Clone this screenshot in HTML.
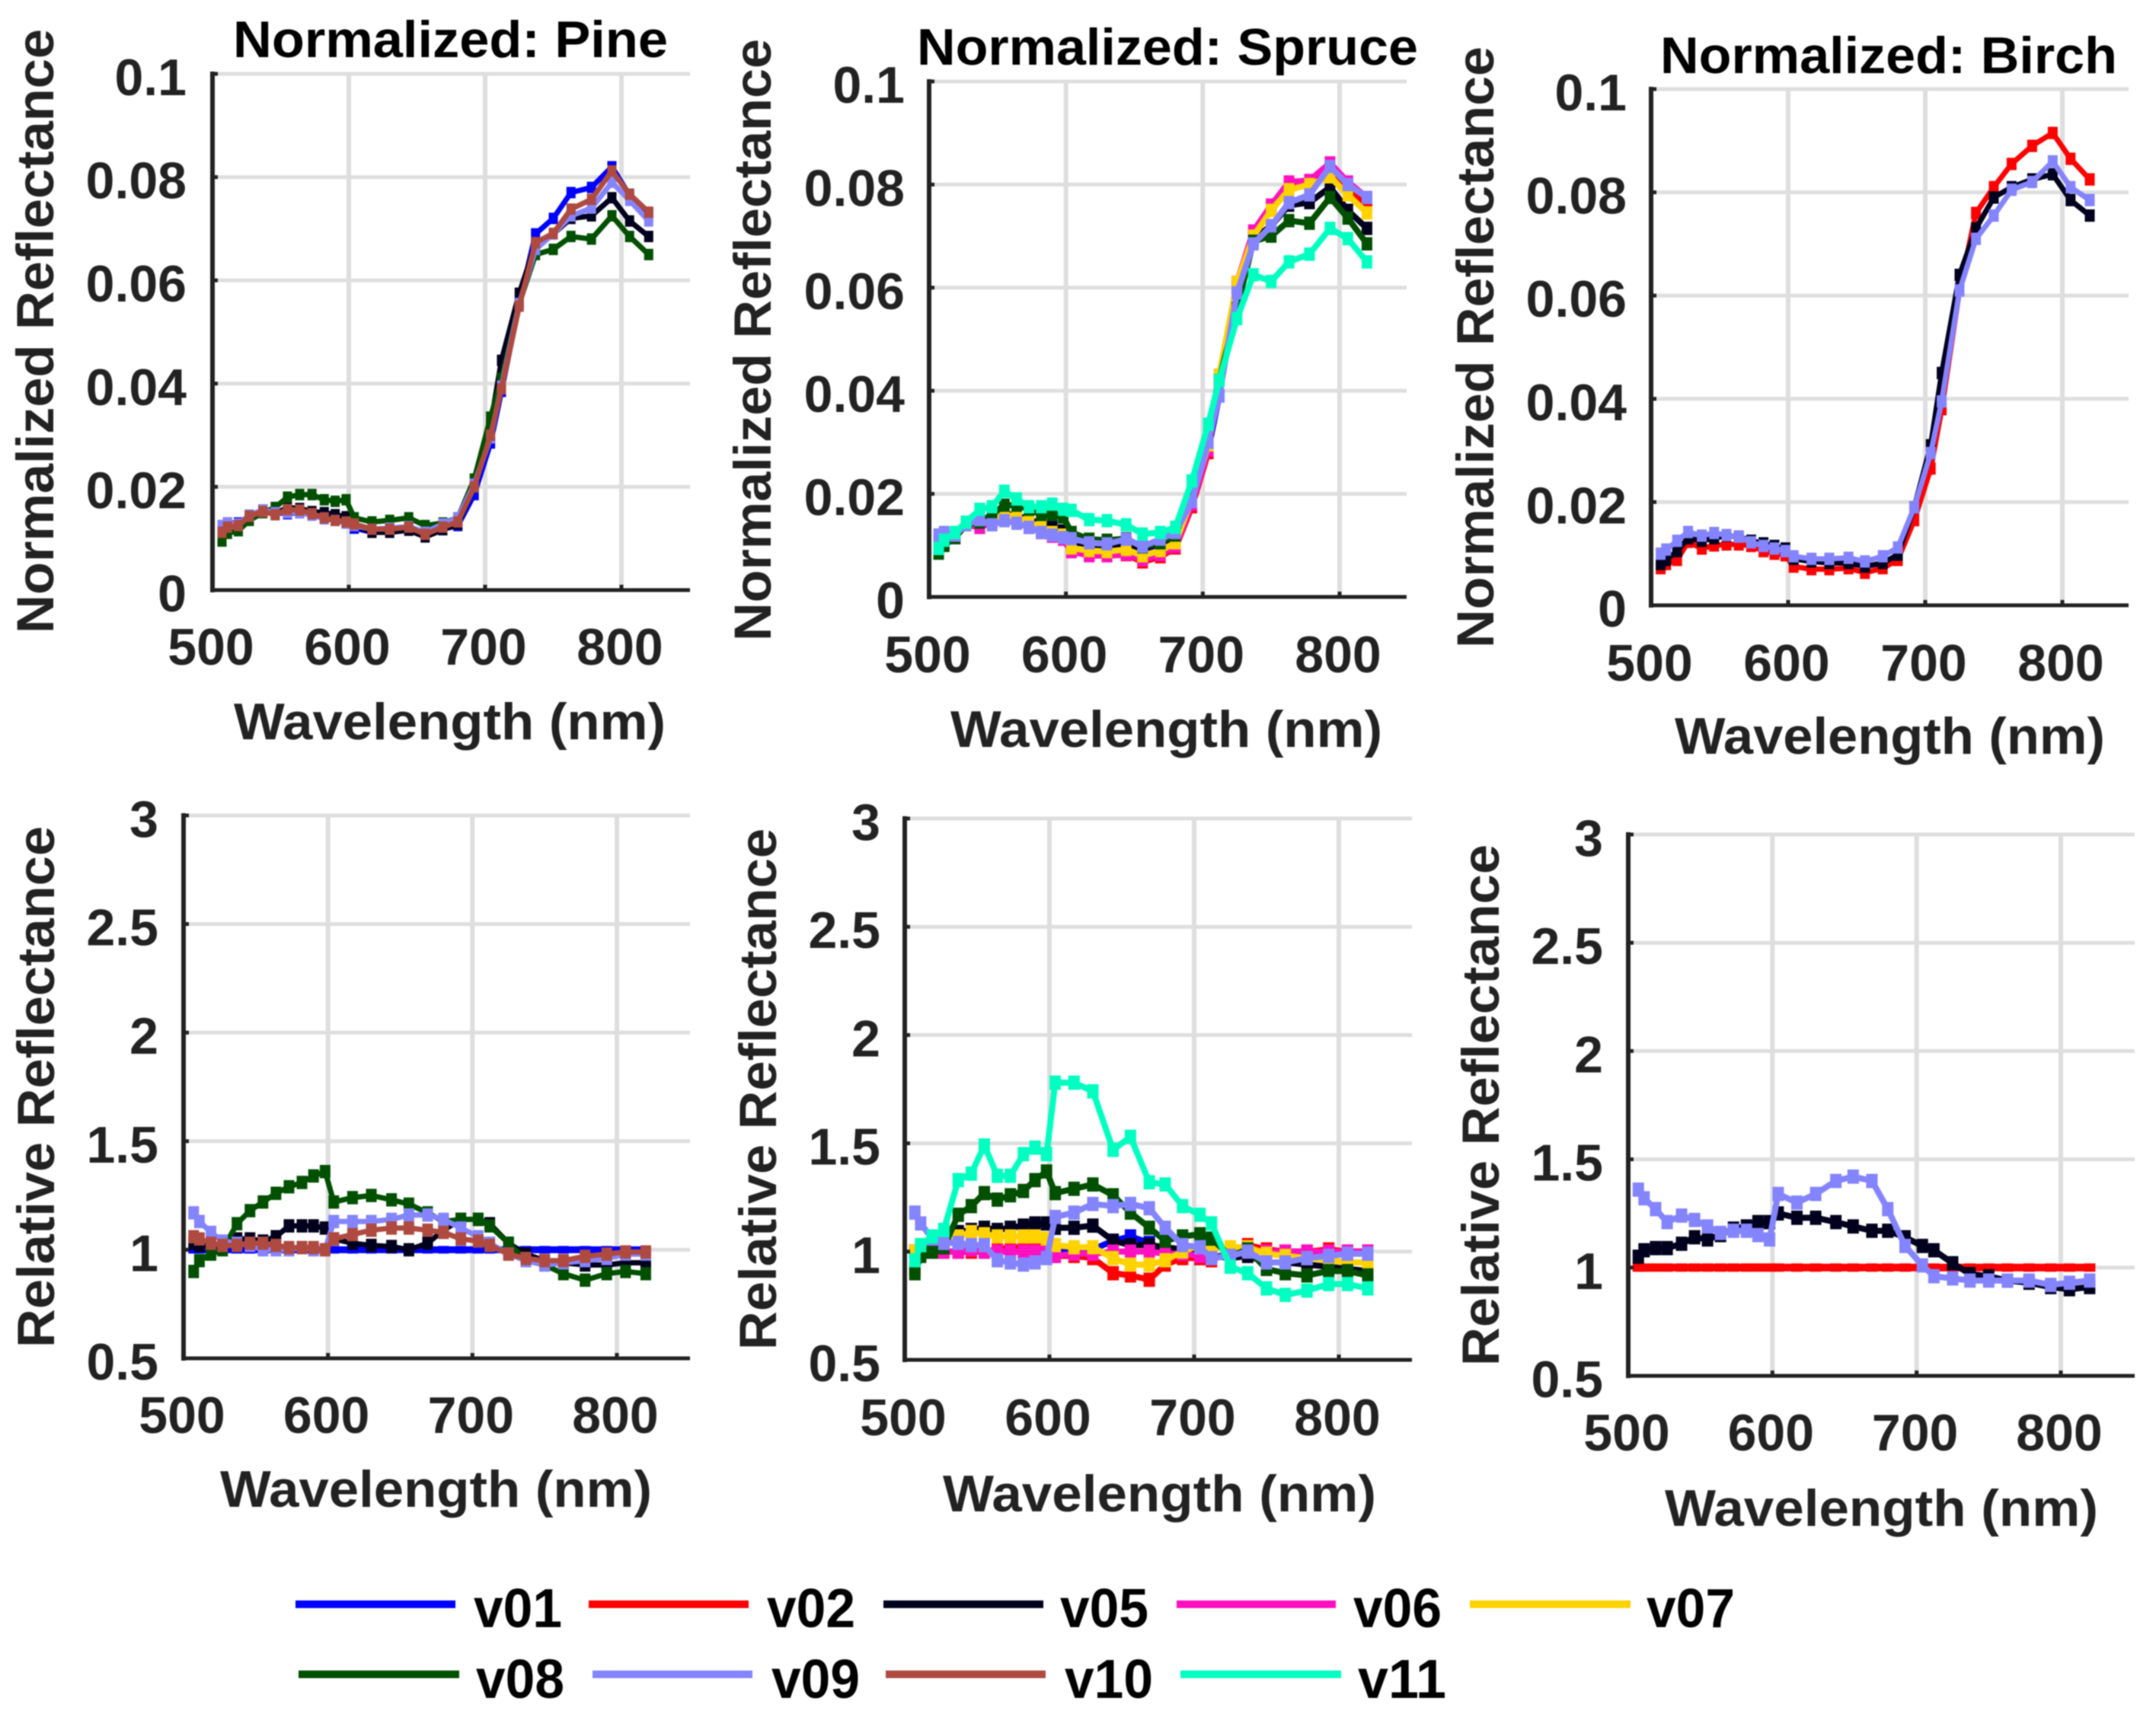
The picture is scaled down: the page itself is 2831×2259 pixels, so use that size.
<!DOCTYPE html>
<html lang="en">
<head>
<meta charset="utf-8">
<title>Normalized and relative reflectance spectra</title>
<style>
html,body{margin:0;padding:0;background:#fff;}
#figure{display:block;width:2831px;height:2259px;filter:blur(0.9px);}
text{font-family:"Liberation Sans",Arial,sans-serif;font-weight:700;}
</style>
</head>
<body>
<svg id="figure" xmlns="http://www.w3.org/2000/svg" width="2831" height="2259" viewBox="0 0 2831 2259"></svg>
<script>
// ---- Shared categories and tick labels ----
const wavelengths = [507,511,519,527,537,546,555,564,573,582,590,598,604,617,630,644,656,669,680,692,704,712,725,737,750,763,778,793,806,820];
const xTicks = [500,600,700,800];
const normYTicks = [0,0.02,0.04,0.06,0.08,0.1];
const relYTicks = [0.5,1,1.5,2,2.5,3];

// ---- Pine, normalized ----
const pineNormV01 = [.0118,.0130,.0130,.0140,.0155,.0150,.0148,.0150,.0148,.0142,.0135,.0130,.0120,.0112,.0115,.0118,.0106,.0118,.0125,.0185,.0285,.0385,.0555,.0690,.0720,.0770,.0780,.0820,.0765,.0730];
const pineNormV05 = [.0115,.0125,.0128,.0145,.0155,.0148,.0160,.0158,.0152,.0150,.0146,.0142,.0125,.0112,.0112,.0116,.0103,.0117,.0128,.0200,.0320,.0445,.0575,.0670,.0690,.0720,.0725,.0760,.0715,.0685];
const pineNormV08 = [.0095,.0110,.0115,.0135,.0150,.0160,.0180,.0185,.0185,.0175,.0172,.0175,.0140,.0132,.0135,.0140,.0125,.0130,.0140,.0215,.0335,.0410,.0555,.0650,.0660,.0685,.0680,.0725,.0685,.0650];
const pineNormV09 = [.0125,.0130,.0128,.0145,.0155,.0150,.0150,.0150,.0145,.0138,.0135,.0130,.0125,.0118,.0120,.0123,.0112,.0128,.0140,.0205,.0295,.0395,.0555,.0660,.0690,.0725,.0740,.0790,.0755,.0715];
const pineNormV10 = [.0112,.0122,.0125,.0143,.0152,.0146,.0156,.0155,.0148,.0140,.0135,.0132,.0128,.0118,.0118,.0122,.0108,.0122,.0132,.0200,.0300,.0390,.0550,.0673,.0691,.0738,.0757,.0812,.0767,.0732];

// ---- Spruce, normalized ----
const spruceNormV01 = [.0105,.0110,.0118,.0140,.0145,.0148,.0155,.0150,.0140,.0130,.0125,.0118,.0095,.0090,.0090,.0095,.0085,.0095,.0105,.0180,.0285,.0390,.0600,.0700,.0755,.0795,.0800,.0835,.0800,.0770];
const spruceNormV02 = [.0095,.0105,.0115,.0140,.0135,.0145,.0150,.0145,.0135,.0125,.0118,.0112,.0088,.0082,.0080,.0082,.0068,.0078,.0095,.0175,.0280,.0420,.0610,.0705,.0760,.0795,.0805,.0835,.0795,.0760];
const spruceNormV05 = [.0095,.0105,.0118,.0140,.0150,.0150,.0162,.0158,.0150,.0142,.0135,.0128,.0100,.0095,.0098,.0105,.0093,.0105,.0115,.0190,.0310,.0430,.0600,.0695,.0720,.0760,.0765,.0795,.0750,.0715];
const spruceNormV06 = [.0100,.0108,.0115,.0142,.0135,.0145,.0150,.0145,.0135,.0125,.0118,.0112,.0088,.0080,.0080,.0083,.0072,.0082,.0098,.0180,.0285,.0420,.0610,.0710,.0760,.0805,.0808,.0842,.0805,.0775];
const spruceNormV07 = [.0100,.0110,.0118,.0140,.0145,.0150,.0160,.0155,.0145,.0135,.0125,.0120,.0095,.0090,.0088,.0092,.0080,.0090,.0105,.0190,.0295,.0430,.0610,.0700,.0750,.0790,.0800,.0815,.0780,.0745];
const spruceNormV08 = [.0085,.0100,.0115,.0140,.0145,.0160,.0178,.0178,.0170,.0160,.0160,.0155,.0125,.0112,.0110,.0113,.0097,.0105,.0120,.0200,.0310,.0420,.0560,.0690,.0700,.0730,.0725,.0775,.0735,.0685];
const spruceNormV09 = [.0120,.0125,.0120,.0140,.0150,.0140,.0148,.0143,.0135,.0125,.0120,.0115,.0113,.0105,.0103,.0112,.0098,.0112,.0125,.0185,.0300,.0390,.0590,.0685,.0720,.0765,.0780,.0835,.0800,.0775];
const spruceNormV11 = [.0094,.0110,.0125,.0145,.0170,.0175,.0205,.0190,.0175,.0175,.0180,.0170,.0168,.0150,.0148,.0140,.0122,.0125,.0135,.0225,.0335,.0420,.0540,.0625,.0612,.0650,.0665,.0715,.0695,.0650];

// ---- Birch, normalized ----
const birchNormV02 = [.0072,.0080,.0088,.0123,.0110,.0116,.0118,.0118,.0115,.0105,.0100,.0097,.0075,.0070,.0070,.0072,.0063,.0072,.0088,.0165,.0265,.0380,.0610,.0760,.0810,.0855,.0890,.0915,.0865,.0825];
const birchNormV05 = [.0080,.0088,.0105,.0130,.0125,.0130,.0135,.0133,.0125,.0120,.0115,.0110,.0090,.0085,.0082,.0082,.0075,.0082,.0098,.0190,.0310,.0450,.0640,.0730,.0790,.0810,.0825,.0835,.0785,.0755];
const birchNormV09 = [.0100,.0108,.0125,.0142,.0135,.0140,.0136,.0133,.0122,.0115,.0110,.0105,.0095,.0090,.0090,.0092,.0085,.0095,.0112,.0190,.0295,.0395,.0610,.0710,.0755,.0805,.0820,.0860,.0810,.0785];

// ---- Pine, relative ----
const pineRelV01 = [1,1,1,1,1,1,1,1,1,1,1,1,1,1,1,1,1,1,1,1,1,1,1,1,1,1,1,1,1,1];
const pineRelV05 = [1.03,1.02,1.02,1.02,1.05,1.05,1.04,1.06,1.11,1.11,1.11,1.10,1.05,1.03,1.02,1.015,1.00,1.03,1.09,1.14,1.14,1.12,1.03,.98,.95,.94,.93,.93,.94,.94];
const pineRelV08 = [.90,.95,.98,1.00,1.12,1.18,1.22,1.26,1.29,1.31,1.34,1.36,1.22,1.24,1.25,1.23,1.21,1.17,1.13,1.14,1.14,1.11,1.03,.95,.93,.89,.86,.89,.90,.89];
const pineRelV09 = [1.17,1.13,1.08,1.04,1.03,1.02,1.00,1.00,1.00,1.01,1.00,1.00,1.13,1.13,1.13,1.14,1.16,1.16,1.14,1.10,1.06,1.03,.98,.95,.93,.94,.95,.96,.98,.98];
const pineRelV10 = [1.06,1.05,1.03,1.02,1.02,1.03,1.03,1.02,1.01,1.01,1.01,1.00,1.05,1.07,1.09,1.10,1.10,1.09,1.08,1.05,1.04,1.02,.98,.96,.95,.95,.97,.98,.99,.99];

// ---- Spruce, relative ----
const spruceRelV01 = [1,1,1,1,1,1,1,1,1,1,1,1,1,1,1.01,1.05,1.07,1.04,1.00,.98,.97,.97,.99,1.02,1,1,1,1,1,1];
const spruceRelV02 = [.92,1.00,1.00,1.00,1.00,1.00,1.00,1.01,1.02,1.02,1.02,1.02,.98,.98,.97,.90,.89,.87,.94,.97,.97,.96,1.00,1.03,1.01,1.00,1.00,1.01,1.00,1.00];
const spruceRelV05 = [1.00,1.00,1.03,1.05,1.09,1.10,1.11,1.10,1.11,1.12,1.13,1.13,1.11,1.11,1.12,1.05,1.03,1.03,1.02,1.01,1.00,.98,.97,.98,.95,.95,.94,.93,.92,.91];
const spruceRelV06 = [1.00,1.01,1.01,1.00,1.00,1.01,1.00,1.00,1.00,1.00,1.00,1.00,.98,.99,.99,1.00,1.00,1.00,.99,.99,.98,.97,.98,1.01,1.00,1.00,1.00,1.00,1.00,1.00];
const spruceRelV07 = [1.00,1.03,1.05,1.07,1.07,1.09,1.08,1.07,1.07,1.07,1.07,1.06,1.03,1.02,1.02,.97,.94,.94,.96,1.00,1.03,1.02,1.02,1.02,.99,.98,.97,.96,.95,.95];
const spruceRelV08 = [.90,.98,1.00,1.02,1.17,1.21,1.27,1.24,1.26,1.28,1.33,1.37,1.27,1.29,1.31,1.26,1.18,1.11,1.05,1.07,1.08,1.06,.98,1.01,.92,.90,.89,.91,.91,.89];
const spruceRelV09 = [1.18,1.13,1.06,1.04,1.04,1.03,1.03,.96,.95,.94,.95,.97,1.16,1.18,1.22,1.21,1.22,1.20,1.11,1.03,1.02,.97,.98,1.00,.95,.95,.97,.98,.99,.99];
const spruceRelV11 = [.96,1.03,1.07,1.10,1.33,1.36,1.49,1.35,1.35,1.45,1.48,1.45,1.78,1.78,1.74,1.47,1.53,1.32,1.31,1.21,1.17,1.13,.93,.90,.83,.80,.82,.85,.85,.83];

// ---- Birch, relative ----
const birchRelV02 = [1,1,1,1,1,1,1,1,1,1,1,1,1,1,1,1,1,1,1,1,1,1,1,1,1,1,1,1,1,1];
const birchRelV05 = [1.05,1.08,1.09,1.09,1.11,1.14,1.13,1.15,1.18,1.19,1.21,1.21,1.25,1.23,1.23,1.21,1.19,1.17,1.17,1.14,1.10,1.08,1.02,.97,.96,.94,.93,.91,.90,.91];
const birchRelV09 = [1.36,1.32,1.27,1.21,1.24,1.22,1.19,1.16,1.17,1.17,1.15,1.13,1.34,1.30,1.34,1.40,1.42,1.40,1.27,1.10,1.01,.96,.95,.94,.94,.94,.94,.92,.93,.94];

// ---- Series names and colours ----
const legendNames = ['v01','v02','v05','v06','v07','v08','v09','v10','v11'];
const seriesColors = {v01:'#0000ff',v02:'#ff0000',v05:'#00001e',v06:'#ff10c0',v07:'#ffd200',v08:'#005000',v09:'#8484ff',v10:'#ae4a40',v11:'#00ffc0'};

const INK = '#222222';
const GRID = '#dedede';
const NS = 'http://www.w3.org/2000/svg';
const svg = document.getElementById('figure');

function make(tag, attrs, parent) {
  const el = document.createElementNS(NS, tag);
  for (const k in attrs) el.setAttribute(k, attrs[k]);
  parent.appendChild(el);
  return el;
}

function fmt(v) { return String(v); }

// Layout of every panel: pixel boxes only, values come from the arrays above.
// "flat" names the reference series, whose markers melt into a thick solid line.
const panels = [
  {id:'pine-normalized', title:'Normalized: Pine', left:279, right:906, nm500:279, nm800:816, top:97, bottom:775, yDomain:[0,0.1], yTicks:normYTicks, yLabel:'Normalized Reflectance',
   titleBox:[306,877,75], yLabelBox:[70,38,832], xLabelBox:[307,874,971], xTickBase:873, yTickRight:245, yTickShift:28, lw:7, ms:12, flat:'',
   series:{v01:pineNormV01,v05:pineNormV05,v08:pineNormV08,v09:pineNormV09,v10:pineNormV10}},
  {id:'spruce-normalized', title:'Normalized: Spruce', left:1220, right:1847, nm500:1220, nm800:1759, top:107, bottom:784, yDomain:[0,0.1], yTicks:normYTicks, yLabel:'Normalized Reflectance',
   titleBox:[1204,1862,85], yLabelBox:[1012,51,842], xLabelBox:[1248,1815,981], xTickBase:883, yTickRight:1188, yTickShift:28, lw:8, ms:14, flat:'',
   series:{v01:spruceNormV01,v02:spruceNormV02,v05:spruceNormV05,v06:spruceNormV06,v07:spruceNormV07,v08:spruceNormV08,v09:spruceNormV09,v11:spruceNormV11}},
  {id:'birch-normalized', title:'Normalized: Birch', left:2168, right:2795, nm500:2168, nm800:2708, top:117, bottom:795, yDomain:[0,0.1], yTicks:normYTicks, yLabel:'Normalized Reflectance',
   titleBox:[2180,2780,96], yLabelBox:[1961,61,851], xLabelBox:[2199,2764,990], xTickBase:894, yTickRight:2136, yTickShift:28, lw:7, ms:13, flat:'',
   series:{v02:birchNormV02,v05:birchNormV05,v09:birchNormV09}},
  {id:'pine-relative', title:'', left:241, right:906, nm500:241, nm800:810, top:1071, bottom:1784, yDomain:[0.5,3], yTicks:relYTicks, yLabel:'Relative Reflectance',
   yLabelBox:[71,1085,1770], xLabelBox:[289,856,1979], xTickBase:1882, yTickRight:208, yTickShift:28, lw:7, ms:14, flat:'v01',
   series:{v01:pineRelV01,v05:pineRelV05,v08:pineRelV08,v09:pineRelV09,v10:pineRelV10}},
  {id:'spruce-relative', title:'', left:1188, right:1854, nm500:1188, nm800:1758, top:1075, bottom:1786, yDomain:[0.5,3], yTicks:relYTicks, yLabel:'Relative Reflectance',
   yLabelBox:[1019,1088,1773], xLabelBox:[1238,1807,1985], xTickBase:1885, yTickRight:1156, yTickShift:28, lw:8, ms:15, flat:'',
   series:{v01:spruceRelV01,v02:spruceRelV02,v05:spruceRelV05,v06:spruceRelV06,v07:spruceRelV07,v08:spruceRelV08,v09:spruceRelV09,v11:spruceRelV11}},
  {id:'birch-relative', title:'', left:2138, right:2803, nm500:2138, nm800:2706, top:1096, bottom:1807, yDomain:[0.5,3], yTicks:relYTicks, yLabel:'Relative Reflectance',
   yLabelBox:[1968,1109,1794], xLabelBox:[2186,2755,2004], xTickBase:1905, yTickRight:2105, yTickShift:28, lw:8, ms:15, flat:'v02',
   series:{v02:birchRelV02,v05:birchRelV05,v09:birchRelV09}}
];

function drawPanel(p) {
  const xPos = nm => p.nm500 + (nm - 500) * (p.nm800 - p.nm500) / 300;
  const yPos = v => p.bottom - (v - p.yDomain[0]) * (p.bottom - p.top) / (p.yDomain[1] - p.yDomain[0]);

  const g = make('g', {}, svg);
  
  

  // gridlines
  p.yTicks.forEach(t => {
    if (t === p.yDomain[0]) return;
    const line = make('line', {x1:p.left, x2:p.right, y1:yPos(t), y2:yPos(t), stroke:GRID, 'stroke-width':5}, g);
    
    
  });
  xTicks.forEach(t => {
    if (t === 500) return;
    const line = make('line', {x1:xPos(t), x2:xPos(t), y1:p.top, y2:p.bottom, stroke:GRID, 'stroke-width':6}, g);
    
    
  });

  // series
  Object.keys(p.series).forEach(name => {
    const values = p.series[name];
    const color = seriesColors[name];
    const isFlat = p.flat === name;
    const sg = make('g', {}, g);
    
    
    const pts = values.map((v, i) => xPos(wavelengths[i]).toFixed(1) + ',' + yPos(v).toFixed(1)).join(' ');
    const line = make('polyline', {points:pts, fill:'none', stroke:color, 'stroke-width':isFlat ? p.lw + 2 : p.lw, 'stroke-linejoin':'miter'}, sg);
    
    
    values.forEach((v, i) => {
      const w = p.ms, h = isFlat ? p.lw + 3 : p.ms * 1.25;
      const m = make('rect', {x:xPos(wavelengths[i]) - w / 2, y:yPos(v) - h / 2, width:w, height:h, fill:color}, sg);
      
      
    });
  });

  // axes
  const yAxis = make('line', {x1:p.left, x2:p.left, y1:p.top - 3, y2:p.bottom + 3, stroke:INK, 'stroke-width':6}, g);
  
  
  const xAxis = make('line', {x1:p.left - 3, x2:p.right, y1:p.bottom, y2:p.bottom, stroke:INK, 'stroke-width':5}, g);
  
  

  // ticks and tick labels
  xTicks.forEach(t => {
    const tick = make('line', {x1:xPos(t), x2:xPos(t), y1:p.bottom, y2:p.bottom - 7, stroke:INK, 'stroke-width':5}, g);
    
    
    const label = make('text', {x:xPos(t) - 2, y:p.xTickBase, 'text-anchor':'middle', 'font-size':68, fill:INK}, g);
    label.textContent = fmt(t);
    
    
  });
  p.yTicks.forEach(t => {
    const tick = make('line', {x1:p.left, x2:p.left + 7, y1:yPos(t), y2:yPos(t), stroke:INK, 'stroke-width':5}, g);
    
    
    const label = make('text', {x:p.yTickRight, y:yPos(t) + p.yTickShift, 'text-anchor':'end', 'font-size':68, fill:INK}, g);
    label.textContent = fmt(t);
    
    
  });

  // titles
  if (p.title) {
    const [x0, x1, base] = p.titleBox;
    const title = make('text', {x:x0, y:base, 'font-size':68, fill:'#000', textLength:x1 - x0, lengthAdjust:'spacingAndGlyphs'}, g);
    title.textContent = p.title;
    
    
  }
  const [lx0, lx1, lbase] = p.xLabelBox;
  const xTitle = make('text', {x:lx0, y:lbase, 'font-size':68, fill:INK, textLength:lx1 - lx0, lengthAdjust:'spacingAndGlyphs'}, g);
  xTitle.textContent = 'Wavelength (nm)';
  
  

  const [yx, yTop, yBottom] = p.yLabelBox;
  const yTitle = make('text', {x:0, y:0, 'font-size':69, fill:INK, textLength:yBottom - yTop, lengthAdjust:'spacingAndGlyphs', transform:'translate(' + yx + ',' + yBottom + ') rotate(-90)'}, g);
  yTitle.textContent = p.yLabel;
  
  
}

panels.forEach(drawPanel);

// ---- Legend ----
const legendLayout = [
  {x0:388,x1:598,tx:622,ly:2107,base:2137},{x0:773,x1:983,tx:1007,ly:2107,base:2137},{x0:1160,x1:1370,tx:1392,ly:2107,base:2137},
  {x0:1545,x1:1754,tx:1777,ly:2107,base:2137},{x0:1930,x1:2141,tx:2162,ly:2107,base:2137},
  {x0:392,x1:603,tx:625,ly:2199,base:2230},{x0:778,x1:988,tx:1013,ly:2199,base:2230},{x0:1163,x1:1373,tx:1398,ly:2199,base:2230},{x0:1550,x1:1761,tx:1783,ly:2199,base:2230}
];
const legend = make('g', {}, svg);


legendNames.forEach((name, i) => {
  const pos = legendLayout[i];
  const entry = make('g', {}, legend);
  
  
  const swatch = make('line', {x1:pos.x0, x2:pos.x1, y1:pos.ly, y2:pos.ly, stroke:seriesColors[name], 'stroke-width':10}, entry);
  
  
  const label = make('text', {x:pos.tx, y:pos.base, 'font-size':72, fill:'#000', textLength:116, lengthAdjust:'spacingAndGlyphs'}, entry);
  label.textContent = name;
  
  
});
</script>
</body>
</html>
